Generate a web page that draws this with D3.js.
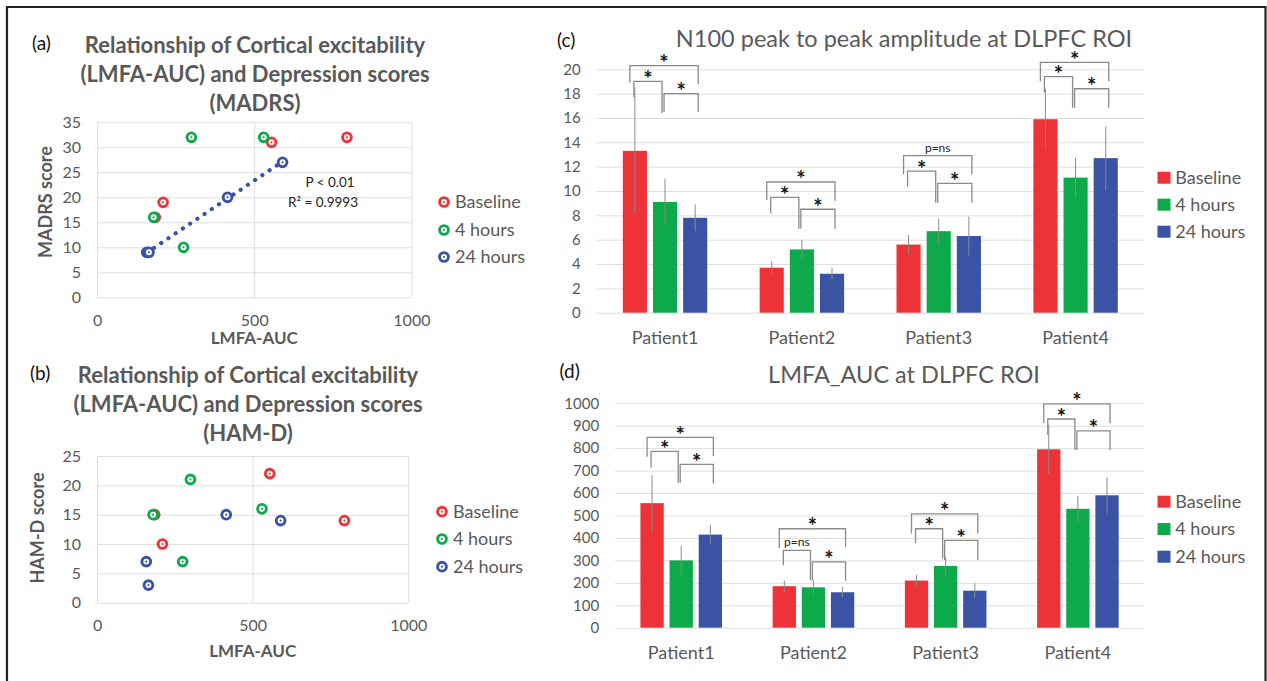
<!DOCTYPE html>
<html>
<head>
<meta charset="utf-8">
<script src="https://cdn.jsdelivr.net/npm/d3@7"></script>
<style>
  body { margin: 0; background: #fff; }
  svg { display: block; }
  text { font-family: Lato, "Open Sans", sans-serif; }
</style>
</head>
<body>
<svg id="fig"></svg>
<script>
// categories
const patients = ["Patient1", "Patient2", "Patient3", "Patient4"];
const timePoints = ["Baseline", "4 hours", "24 hours"];

// N100 peak to peak amplitude (mean, error)
const n100Baseline = [13.3, 3.7, 5.6, 15.9];
const n1004h = [9.1, 5.2, 6.7, 11.1];
const n10024h = [7.8, 3.2, 6.3, 12.7];
const n100ErrBaseline = [5.2, 0.55, 0.8, 2.5];
const n100Err4h = [1.9, 0.8, 1.05, 1.6];
const n100Err24h = [1.1, 0.45, 1.6, 2.6];

// LMFA_AUC (mean, error) - also x values of the scatter plots
const aucBaseline = [555, 185, 210, 795];
const auc4h = [300, 180, 275, 530];
const auc24h = [415, 158, 165, 590];
const aucErrBaseline = [125, 25, 25, 110];
const aucErr4h = [65, 30, 40, 58];
const aucErr24h = [43, 23, 33, 80];

// depression scores
const madrsBaseline = [31, 16, 19, 32];
const madrs4h = [32, 16, 10, 32];
const madrs24h = [20, 9, 9, 27];
const hamdBaseline = [22, 15, 10, 14];
const hamd4h = [21, 15, 7, 16];
const hamd24h = [15, 7, 3, 14];

// significance brackets: [patient, from, to, top, left leg end, right leg end, label]
const n100Brackets = [
  [0, 0, 2, 20.3, 18.9, 18.8, "*"], [0, 0, 1, 19.0, 17.7, 16.4, "*"], [0, 1, 2, 18.0, 16.5, 16.5, "*"],
  [1, 0, 2, 10.74, 9.26, 9.2, "*"], [1, 0, 1, 9.48, 8.17, 6.9, "*"], [1, 1, 2, 8.5, 6.9, 6.9, "*"],
  [2, 0, 2, 12.9, 11.37, 11.37, "p=ns"], [2, 0, 1, 11.64, 10.35, 9.04, "*"], [2, 1, 2, 10.63, 9.04, 9.04, "*"],
  [3, 0, 2, 20.57, 19.0, 19.0, "*"], [3, 0, 1, 19.4, 18.1, 16.85, "*"], [3, 1, 2, 18.4, 16.85, 16.85, "*"]
];
const aucBrackets = [
  [0, 0, 2, 848, 762, 765, "*"], [0, 0, 1, 786, 713, 646, "*"], [0, 1, 2, 728, 646, 643, "*"],
  [1, 0, 2, 441, 354, 361, "*"], [1, 0, 1, 345, 278, 212, "p=ns"], [1, 1, 2, 293, 209, 209, "*"],
  [2, 0, 2, 507, 420, 420, "*"], [2, 0, 1, 441, 376, 308, "*"], [2, 1, 2, 389, 302, 302, "*"],
  [3, 0, 2, 997, 911, 911, "*"], [3, 0, 1, 930, 859, 792, "*"], [3, 1, 2, 877, 792, 792, "*"]
];

const colors = ["#EE3338", "#0DA94B", "#3A53A4"];
const TEXT = "#595959";
const GRID = "#dedede";
const fmt = d3.format("d");

const svg = d3.select("#fig").attr("width", 1267).attr("height", 681);
svg.append("rect").attr("width", 1267).attr("height", 681).attr("fill", "#fff");

// frame
svg.append("path").attr("d", "M7,690 V7 H1265.5 V690")
  .attr("fill", "none").attr("stroke", "#222").attr("stroke-width", 2.2);

function addText(x, y, str, size, opts = {}) {
  return svg.append("text")
    .attr("x", x).attr("y", y).attr("dy", "0.35em")
    .attr("text-anchor", opts.anchor || "middle")
    .attr("font-size", size)
    .attr("font-weight", opts.bold ? "bold" : null)
    .attr("fill", opts.color || TEXT)
    .attr("font-family", opts.family || null)
    .text(str);
}

function marker(g, cx, cy, color) {
  g.append("circle").attr("cx", cx).attr("cy", cy).attr("r", 4.4).attr("fill", "#fff")
    .attr("stroke", color).attr("stroke-width", 2.9);
  g.append("circle").attr("cx", cx).attr("cy", cy).attr("r", 1.1).attr("fill", color);
}

/* ---------------- scatter panels ---------------- */
function scatterPanel(c) {
  const x = d3.scaleLinear().domain([0, 1000]).range([c.left, c.right]);
  const y = d3.scaleLinear().domain([0, c.ymax]).range([c.bottom, c.top]);
  const g = svg.append("g");

  // grid + plot border
  g.append("g").attr("transform", `translate(${c.left},0)`)
    .call(d3.axisLeft(y).ticks(c.ymax / 5).tickSize(-(c.right - c.left)).tickFormat(""))
    .call(s => s.select(".domain").remove())
    .call(s => s.selectAll("line").attr("stroke", GRID));
  g.append("g").attr("transform", `translate(0,${c.bottom})`)
    .call(d3.axisBottom(x).tickValues([0, 500, 1000]).tickSize(-(c.bottom - c.top)).tickFormat(""))
    .call(s => s.select(".domain").remove())
    .call(s => s.selectAll("line").attr("stroke", GRID));

  // tick labels
  g.append("g").attr("transform", `translate(${c.left},0)`)
    .call(d3.axisLeft(y).ticks(c.ymax / 5).tickSize(0).tickPadding(16))
    .call(s => s.select(".domain").remove())
    .call(s => s.selectAll("text").attr("fill", TEXT).attr("font-size", 16).attr("font-family", null));
  g.append("g").attr("transform", `translate(0,${c.bottom})`)
    .call(d3.axisBottom(x).tickValues([0, 500, 1000]).tickFormat(fmt).tickSize(0).tickPadding(c.xPad))
    .call(s => s.select(".domain").remove())
    .call(s => s.selectAll("text").attr("fill", TEXT).attr("font-size", 16).attr("font-family", null));

  // trend line of the 24 hours points
  if (c.trend) {
    const xs = auc24h, ys = c.series[2];
    const mx = d3.mean(xs), my = d3.mean(ys);
    const slope = d3.sum(xs, (v, i) => (v - mx) * (ys[i] - my)) / d3.sum(xs, v => (v - mx) ** 2);
    const icpt = my - slope * mx;
    const ext = d3.extent(xs);
    g.append("line")
      .attr("x1", x(ext[0])).attr("y1", y(icpt + slope * ext[0]))
      .attr("x2", x(ext[1])).attr("y2", y(icpt + slope * ext[1]))
      .attr("stroke", colors[2]).attr("stroke-width", 4.2)
      .attr("stroke-linecap", "round").attr("stroke-dasharray", "0.1 8.6");
  }

  // markers
  const xsAll = [aucBaseline, auc4h, auc24h];
  c.series.forEach((vals, s) => {
    const m = g.append("g");
    vals.forEach((d, i) => marker(m, x(xsAll[s][i]), y(d), colors[s]));
  });

  // legend
  timePoints.forEach((t, i) => {
    const ly = c.legendY[i];
    marker(g, c.legendX, ly, colors[i]);
    addText(c.legendX + 11, ly, t, 18, { anchor: "start" });
  });

  // titles
  c.title.forEach((line, i) => addText(c.titleX, c.titleY[i], line, 22, { bold: true }));
  addText(c.tagX, c.titleY[0] - 2, c.tag, 19, { anchor: "start", color: "#111", family: "Liberation Sans, Arial, sans-serif" });
  addText(0, 0, c.yTitle, 18, { bold: true })
    .attr("transform", `translate(${c.yTitleX},${c.yTitleY}) rotate(-90)`);
  addText((c.left + c.right) / 2, c.xTitleY, "LMFA-AUC", 17, { bold: true });
}

scatterPanel({
  left: 97.1, right: 411.4, top: 122.3, bottom: 297.3, ymax: 35, xPad: 17.6,
  series: [madrsBaseline, madrs4h, madrs24h], trend: true,
  legendX: 444, legendY: [202, 230, 257],
  title: ["Relationship of Cortical excitability", "(LMFA-AUC) and Depression scores", "(MADRS)"],
  titleX: 255, titleY: [45, 74, 103], tag: "(a)", tagX: 32,
  yTitle: "MADRS score", yTitleX: 46, yTitleY: 202, xTitleY: 338
});
addText(330, 182, "P < 0.01", 13.5, { color: "#222" });
addText(323, 202, "R² = 0.9993", 13.5, { color: "#222" });

scatterPanel({
  left: 97.1, right: 408.2, top: 456, bottom: 602.7, ymax: 25, xPad: 17.2,
  series: [hamdBaseline, hamd4h, hamd24h], trend: false,
  legendX: 442, legendY: [511.7, 539, 566.7],
  title: ["Relationship of Cortical excitability", "(LMFA-AUC) and Depression scores", "(HAM-D)"],
  titleX: 248, titleY: [375, 404, 433.3], tag: "(b)", tagX: 30,
  yTitle: "HAM-D score", yTitleX: 37.5, yTitleY: 528, xTitleY: 650.7
});

/* ---------------- bar panels ---------------- */
function barPanel(c) {
  const x0 = d3.scaleBand().domain(patients).range([c.left, c.right])
    .paddingInner(0.383).paddingOuter(0.1915);
  const x1 = d3.scaleBand().domain(timePoints).range([0, x0.bandwidth()]).paddingInner(0.2);
  const y = d3.scaleLinear().domain([0, c.ymax]).range([c.bottom, c.top]);
  const g = svg.append("g");
  const tickVals = d3.range(0, c.ymax + c.step / 2, c.step);

  g.append("g").attr("transform", `translate(${c.left},0)`)
    .call(d3.axisLeft(y).tickValues(tickVals).tickSize(-(c.right - c.left)).tickFormat(""))
    .call(s => s.select(".domain").remove())
    .call(s => s.selectAll("line").attr("stroke", GRID));
  g.append("g").attr("transform", `translate(${c.left},0)`)
    .call(d3.axisLeft(y).tickValues(tickVals).tickFormat(fmt).tickSize(0).tickPadding(c.tickPad))
    .call(s => s.select(".domain").remove())
    .call(s => s.selectAll("text").attr("fill", TEXT).attr("font-size", 15).attr("font-family", null));
  g.append("g").attr("transform", `translate(0,${c.bottom})`)
    .call(d3.axisBottom(x0).tickSize(0).tickPadding(c.catPad))
    .call(s => s.select(".domain").remove())
    .call(s => s.selectAll("text").attr("fill", TEXT).attr("font-size", 18).attr("font-family", null));

  const cx = (p, s) => x0(patients[p]) + x1(timePoints[s]) + x1.bandwidth() / 2;

  c.series.forEach((vals, s) => {
    g.append("g").selectAll("rect").data(vals).enter().append("rect")
      .attr("x", (d, i) => x0(patients[i]) + x1(timePoints[s]))
      .attr("width", x1.bandwidth())
      .attr("y", d => y(d)).attr("height", d => c.bottom - y(d))
      .attr("fill", colors[s]);
    g.append("g").selectAll("line").data(vals).enter().append("line")
      .attr("x1", (d, i) => cx(i, s)).attr("x2", (d, i) => cx(i, s))
      .attr("y1", (d, i) => y(d - c.errs[s][i])).attr("y2", (d, i) => y(d + c.errs[s][i]))
      .attr("stroke", "#8a8a8a").attr("stroke-width", 1);
  });

  // brackets
  c.brackets.forEach(([p, a, b, top, legL, legR, label]) => {
    const xl = cx(p, a) + (b - a === 2 ? -5 : -1);
    const xr = cx(p, b) + (b === 2 ? 3 : -3);
    g.append("path")
      .attr("d", `M${xl},${y(legL)} V${y(top)} H${xr} V${y(legR)}`)
      .attr("fill", "none").attr("stroke", "#8a8a8a").attr("stroke-width", 1.3);
    if (label === "*") {
      g.append("text").attr("x", (xl + xr) / 2).attr("y", y(top) + 5.5)
        .attr("text-anchor", "middle").attr("font-size", 22).attr("font-weight", "bold")
        .attr("font-family", "DejaVu Sans, sans-serif")
        .attr("fill", "#111").text(label);
    } else {
      g.append("text").attr("x", (xl + xr) / 2).attr("y", y(top) - 4)
        .attr("text-anchor", "middle").attr("font-size", 12).attr("fill", "#222").text(label);
    }
  });

  // legend
  timePoints.forEach((t, i) => {
    const ly = c.legendY[i];
    g.append("rect").attr("x", 1157.5).attr("y", ly - 6).attr("width", 13).attr("height", 12)
      .attr("fill", colors[i]);
    addText(1175.3, ly, t, 18, { anchor: "start" });
  });

  addText(904, c.titleY, c.title, 23.5);
  addText(c.tagX, c.tagY, c.tag, 19, { anchor: "start", color: "#111", family: "Liberation Sans, Arial, sans-serif" });
}

barPanel({
  left: 596.6, right: 1144, top: 69.3, bottom: 312.7, ymax: 20, step: 2, tickPad: 16, catPad: 19,
  series: [n100Baseline, n1004h, n10024h], errs: [n100ErrBaseline, n100Err4h, n100Err24h],
  brackets: n100Brackets, legendY: [177.7, 204.7, 231.7],
  title: "N100 peak to peak amplitude at DLPFC ROI", titleY: 39, tag: "(c)", tagX: 557, tagY: 40
});

barPanel({
  left: 615.1, right: 1144, top: 403.3, bottom: 627.7, ymax: 1000, step: 100, tickPad: 16, catPad: 19,
  series: [aucBaseline, auc4h, auc24h], errs: [aucErrBaseline, aucErr4h, aucErr24h],
  brackets: aucBrackets, legendY: [501.7, 529, 556.7],
  title: "LMFA_AUC at DLPFC ROI", titleY: 375, tag: "(d)", tagX: 559.5, tagY: 371.7
});
</script>
</body>
</html>
